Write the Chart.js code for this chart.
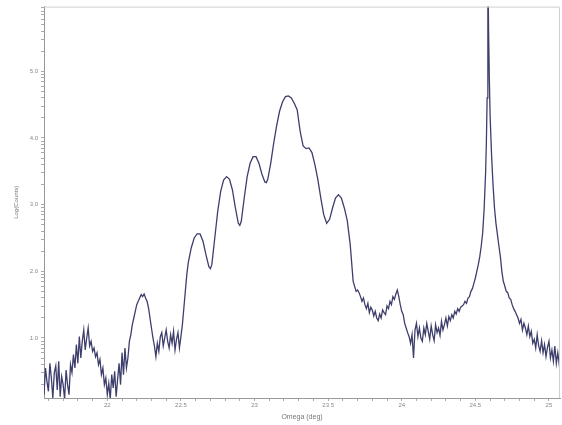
<!DOCTYPE html>
<html>
<head>
<meta charset="utf-8">
<script src="https://cdn.jsdelivr.net/npm/chart.js@4.4.1/dist/chart.umd.min.js"></script>
<style>
body { margin: 0; background: #fff; }
#grafica { display: block; }
</style>
</head>
<body>
<canvas id="grafica" width="562" height="425"></canvas>
<script>
// omega (deg) y log(counts)
var omega = [
    21.57, 21.58, 21.59, 21.60, 21.61, 21.62, 21.63, 21.64, 21.65, 21.66, 21.67, 21.68, 21.69, 21.70,
    21.71, 21.72, 21.73, 21.74, 21.75, 21.76, 21.77, 21.78, 21.79, 21.80, 21.81, 21.82, 21.83, 21.84,
    21.85, 21.86, 21.87, 21.88, 21.89, 21.90, 21.91, 21.92, 21.93, 21.94, 21.95, 21.96, 21.97, 21.98,
    21.99, 22.00, 22.01, 22.02, 22.03, 22.04, 22.05, 22.06, 22.07, 22.08, 22.09, 22.10, 22.11, 22.12,
    22.13, 22.14, 22.15, 22.16, 22.17, 22.18, 22.19, 22.20, 22.21, 22.22, 22.23, 22.24, 22.25, 22.26,
    22.27, 22.28, 22.29, 22.30, 22.31, 22.32, 22.33, 22.34, 22.35, 22.36, 22.37, 22.38, 22.39, 22.40,
    22.41, 22.42, 22.43, 22.44, 22.45, 22.46, 22.47, 22.48, 22.49, 22.50, 22.51,
    22.52, 22.53, 22.54, 22.55, 22.57, 22.59, 22.61, 22.63, 22.65, 22.67, 22.69, 22.70, 22.71, 22.73,
    22.75, 22.77, 22.79, 22.81, 22.83, 22.85, 22.87, 22.89, 22.90, 22.91, 22.93, 22.95, 22.97, 22.99,
    23.01, 23.03, 23.05, 23.07, 23.08, 23.09, 23.11, 23.13, 23.15, 23.17, 23.19, 23.21, 23.23, 23.25,
    23.27, 23.29, 23.31, 23.33, 23.35, 23.37, 23.39, 23.41, 23.43, 23.45, 23.47, 23.49, 23.51, 23.53,
    23.55, 23.57, 23.59, 23.61, 23.63, 23.65, 23.67, 23.69, 23.70,
    23.71, 23.72, 23.73, 23.74, 23.75, 23.76, 23.77, 23.78, 23.79, 23.80, 23.81, 23.82, 23.83, 23.84,
    23.85, 23.86, 23.87, 23.88, 23.89, 23.90, 23.91, 23.92, 23.93, 23.94, 23.95, 23.96, 23.97, 23.98,
    23.99, 24.00, 24.01, 24.02, 24.03, 24.04, 24.05, 24.06, 24.07, 24.08, 24.09, 24.10, 24.11, 24.12,
    24.13, 24.14, 24.15, 24.16, 24.17, 24.18, 24.19, 24.20, 24.21, 24.22, 24.23, 24.24, 24.25, 24.26,
    24.27, 24.28, 24.29, 24.30, 24.31, 24.32, 24.33, 24.34, 24.35, 24.36, 24.37, 24.38, 24.39, 24.40,
    24.41, 24.42, 24.43, 24.44, 24.45, 24.46, 24.47, 24.48, 24.49, 24.50, 24.51, 24.52, 24.53, 24.54,
    24.55, 24.56, 24.57, 24.575, 24.58, 24.585, 24.59, 24.595, 24.60, 24.61, 24.62, 24.63, 24.64, 24.65,
    24.66, 24.67, 24.68, 24.69, 24.70, 24.71, 24.72, 24.73,
    24.74, 24.75, 24.76, 24.77, 24.78, 24.79, 24.80, 24.81, 24.82, 24.83, 24.84, 24.85, 24.86, 24.87,
    24.88, 24.89, 24.90, 24.91, 24.92, 24.93, 24.94, 24.95, 24.96, 24.97, 24.98, 24.99, 25.00, 25.01,
    25.02, 25.03, 25.04, 25.05, 25.06, 25.07, 25.08
];
var logCounts = [
    0.15, 0.55, 0.35, 0.20, 0.62, 0.40, 0.10, 0.48, 0.58, 0.22, 0.65, 0.12, 0.42, 0.30,
    0.08, 0.52, 0.30, 0.15, 0.60, 0.48, 0.75, 0.55, 0.90, 0.62, 1.02, 0.70, 0.95, 1.12,
    0.82, 1.00, 1.15, 0.88, 0.95, 0.80, 0.85, 0.72, 0.78, 0.60, 0.68, 0.45, 0.55, 0.30,
    0.40, 0.15, 0.32, 0.08, 0.45, 0.25, 0.50, 0.12, 0.38, 0.62, 0.30, 0.78, 0.45, 0.85,
    0.55, 0.70, 0.95, 1.05, 1.20, 1.30, 1.40, 1.50, 1.55, 1.60, 1.65, 1.62, 1.66, 1.60,
    1.55, 1.45, 1.30, 1.15, 1.00, 0.88, 0.72, 0.92, 0.80, 1.02, 1.08, 0.88, 1.00, 1.12,
    0.95, 0.85, 1.05, 0.92, 1.10, 0.82, 0.98, 1.08, 0.85, 1.02, 1.20,
    1.45, 1.70, 1.95, 2.13, 2.35, 2.50, 2.56, 2.56, 2.45, 2.25, 2.07, 2.04, 2.10, 2.50,
    2.90, 3.20, 3.37, 3.42, 3.38, 3.22, 2.95, 2.72, 2.69, 2.75, 3.10, 3.42, 3.62, 3.72,
    3.72, 3.62, 3.46, 3.34, 3.33, 3.38, 3.62, 3.92, 4.18, 4.40, 4.54, 4.62, 4.63, 4.60,
    4.52, 4.42, 4.10, 3.88, 3.84, 3.85, 3.78, 3.60, 3.38, 3.10, 2.85, 2.72, 2.78, 2.95,
    3.10, 3.15, 3.10, 2.95, 2.76, 2.40, 1.85, 1.70, 1.72,
    1.68, 1.62, 1.55, 1.60, 1.50, 1.44, 1.52, 1.38, 1.46, 1.42, 1.33, 1.40, 1.30, 1.26,
    1.36, 1.30, 1.42, 1.38, 1.35, 1.48, 1.44, 1.55, 1.50, 1.62, 1.58, 1.66, 1.72, 1.62,
    1.50, 1.40, 1.35, 1.22, 1.15, 1.08, 1.02, 0.92, 1.05, 0.70, 1.12, 1.22, 1.02, 1.15,
    1.00, 0.95, 1.15, 1.05, 1.22, 1.10, 0.98, 1.18, 1.05, 0.96, 1.20, 1.08, 1.15, 1.04,
    1.25, 1.12, 1.20, 1.30, 1.18, 1.32, 1.26, 1.35, 1.30, 1.40, 1.36, 1.44, 1.40, 1.46,
    1.48, 1.50, 1.55, 1.52, 1.60, 1.62, 1.70, 1.74, 1.82, 1.90, 2.00, 2.10, 2.22, 2.38,
    2.58, 2.95, 3.50, 3.95, 4.60, 6.60, 5.60, 4.90, 4.35, 3.75, 3.30, 2.95, 2.72, 2.55,
    2.38, 2.22, 2.00, 1.85, 1.78, 1.70, 1.68, 1.60,
    1.58, 1.50, 1.44, 1.40, 1.35, 1.30, 1.22, 1.28, 1.12, 1.22, 1.15, 1.05, 1.18, 1.02,
    1.10, 0.92, 0.98, 0.85, 1.05, 0.88, 0.80, 0.96, 0.78, 0.90, 0.72, 0.86, 0.95, 0.70,
    0.82, 0.65, 0.88, 0.62, 0.78, 0.60, 0.72
];
var yEtiquetas = [1, 2, 3, 4, 5];
var xEtiquetas = [22, 22.5, 23, 23.5, 24, 24.5, 25];

var puntos = [];
for (var i = 0; i < omega.length; i++) {
    puntos.push({ x: omega[i], y: logCounts[i] });
}

// marco gris alrededor del area
var marco = {
    id: 'marco',
    afterDraw: function (chart) {
        var a = chart.chartArea;
        var ctx = chart.ctx;
        ctx.save();
        ctx.strokeStyle = '#cfcfcf';
        ctx.lineWidth = 1;
        ctx.beginPath();
        ctx.moveTo(a.left, a.top + 0.5);
        ctx.lineTo(a.right - 0.5, a.top + 0.5);
        ctx.lineTo(a.right - 0.5, a.bottom);
        ctx.stroke();
        ctx.restore();
    }
};

var fuente = { family: 'Liberation Sans', size: 6 };

var canvasGrafica = document.getElementById("grafica");
var miGrafica = new Chart(canvasGrafica, {
    type: 'line',
    data: {
        datasets: [{
            label: 'Log(Counts)',
            data: puntos,
            borderColor: '#3e3e6c',
            borderWidth: 1.3,
            pointRadius: 0,
            tension: 0,
            fill: false
        }]
    },
    options: {
        responsive: false,
        animation: false,
        layout: { padding: { top: 5, right: 2, left: 0, bottom: 0 } },
        plugins: {
            legend: { display: false },
            tooltip: { enabled: false }
        },
        scales: {
            x: {
                type: 'linear',
                min: 21.57,
                max: 25.075,
                afterBuildTicks: function (scale) {
                    var t = [];
                    for (var k = 216; k <= 250; k++) {
                        t.push({ value: k / 10 });
                    }
                    scale.ticks = t;
                },
                afterFit: function (scale) { scale.height = 27; },
                ticks: {
                    autoSkip: false,
                    maxRotation: 0,
                    padding: 1,
                    color: '#888',
                    font: fuente,
                    callback: function (v) {
                        var r = Math.round(v * 10) / 10;
                        return xEtiquetas.indexOf(r) >= 0 ? String(r) : '';
                    }
                },
                grid: { drawOnChartArea: false, tickLength: 3, color: '#aaa' },
                border: { color: '#999' },
                title: {
                    display: true,
                    text: 'Omega (deg)',
                    color: '#777',
                    font: { family: 'Liberation Sans', size: 7 },
                    padding: { top: 0, bottom: 4 }
                }
            },
            y: {
                type: 'linear',
                min: 0.1,
                max: 5.97,
                afterBuildTicks: function (scale) {
                    var t = [];
                    for (var d = 0; d <= 5; d++) {
                        for (var k = 1; k <= 9; k++) {
                            var v = d + Math.log10(k);
                            if (v >= 0.1 && v <= 5.97) t.push({ value: v });
                        }
                    }
                    scale.ticks = t;
                },
                afterFit: function (scale) { scale.width = 44; },
                ticks: {
                    autoSkip: false,
                    padding: 3,
                    color: '#888',
                    font: fuente,
                    callback: function (v) {
                        var r = Math.round(v * 1000) / 1000;
                        return yEtiquetas.indexOf(r) >= 0 ? r.toFixed(1) : '';
                    }
                },
                grid: { drawOnChartArea: false, tickLength: 3, color: '#aaa' },
                border: { color: '#999' },
                title: {
                    display: true,
                    text: 'Log(Counts)',
                    color: '#777',
                    font: { family: 'Liberation Sans', size: 6 },
                    padding: { top: 13, bottom: 0 }
                }
            }
        }
    },
    plugins: [marco]
});
</script>
</body>
</html>
